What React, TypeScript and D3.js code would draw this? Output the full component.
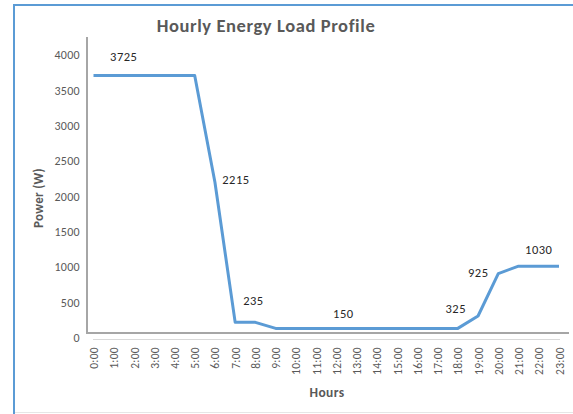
import React from "react";
import * as d3 from "d3";

const hours = ["0:00","1:00","2:00","3:00","4:00","5:00","6:00","7:00","8:00","9:00","10:00","11:00","12:00","13:00","14:00","15:00","16:00","17:00","18:00","19:00","20:00","21:00","22:00","23:00"];
const power = [3725,3725,3725,3725,3725,3725,2215,235,235,150,150,150,150,150,150,150,150,150,150,325,925,1030,1030,1030];
const yTicks = [0,500,1000,1500,2000,2500,3000,3500,4000];
// data labels: index of point, text
const labelIdx = [1, 6, 8, 12, 18, 20, 22];
const labelText = ["3725","2215","235","150","325","925","1030"];
const labelDx = [10, 21, -2, 7, -2, -20, 0];
const labelDy = [-19, -3, -22, -15, -20, -1, -17];

export default function App() {
  const W = 573, H = 414;
  const x = d3.scalePoint<string>().domain(hours).range([93.5, 559]);
  const y = d3.scaleLinear().domain([0, 4000]).range([339, 56]);
  const line = d3.line<number>().x((_, i) => x(hours[i])!).y((d) => y(d));
  const font = "Calibri, Carlito, Lato, 'Open Sans', sans-serif";
  const gray = "#595959";
  return (
    <svg width={W} height={H} style={{ position: "absolute", left: 0, top: 0, background: "#fff" }} fontFamily={font}>
      <rect x={0} y={0} width={W} height={H} fill="#fff" />
      {/* outer frame */}
      <line x1={14} y1={5} x2={W} y2={5} stroke="#5b9bd5" strokeWidth={2} />
      <line x1={14} y1={4} x2={14} y2={H} stroke="#5b9bd5" strokeWidth={2} />
      <line x1={15} y1={412.5} x2={W} y2={412.5} stroke="#e6e6e6" strokeWidth={1} />
      {/* title */}
      <text x={266} y={32} textAnchor="middle" fontSize={18.5} letterSpacing={0.6} fontWeight="bold" fill={gray}>Hourly Energy Load Profile</text>
      {/* plot area border */}
      <line x1={87} y1={37} x2={87} y2={334} stroke="#a6a6a6" strokeWidth={2} />
      <line x1={86} y1={333} x2={569} y2={333} stroke="#a6a6a6" strokeWidth={2} />
      <line x1={93} y1={339.5} x2={560} y2={339.5} stroke="#d9d9d9" strokeWidth={1} />
      {/* y ticks */}
      {yTicks.map((t) => (
        <text key={t} x={80} y={y(t) - 1} dy="0.35em" textAnchor="end" fontSize={12} letterSpacing={0.3} fill={gray}>{t}</text>
      ))}
      <text transform="translate(43,198) rotate(-90)" textAnchor="middle" fontSize={13} letterSpacing={0.3} fontWeight="bold" fill={gray}>Power (W)</text>
      {/* x ticks */}
      {hours.map((h) => (
        <text key={h} transform={`translate(${x(h)! + 0.5},347) rotate(-90)`} textAnchor="end" dy="0.35em" fontSize={11.5} letterSpacing={0.3} fill={gray}>{h}</text>
      ))}
      <text x={327} y={397} textAnchor="middle" fontSize={13.5} letterSpacing={0.4} fontWeight="bold" fill={gray}>Hours</text>
      {/* line */}
      <path d={line(power) || ""} fill="none" stroke="#5b9bd5" strokeWidth={3} strokeLinejoin="round" />
      {/* data labels */}
      {labelIdx.map((idx, k) => (
        <text key={k} x={x(hours[idx])! + labelDx[k]} y={y(power[idx]) + labelDy[k]} dy="0.35em" textAnchor="middle" fontSize={12.5} letterSpacing={0.5} fill="#262626">{labelText[k]}</text>
      ))}
    </svg>
  );
}
